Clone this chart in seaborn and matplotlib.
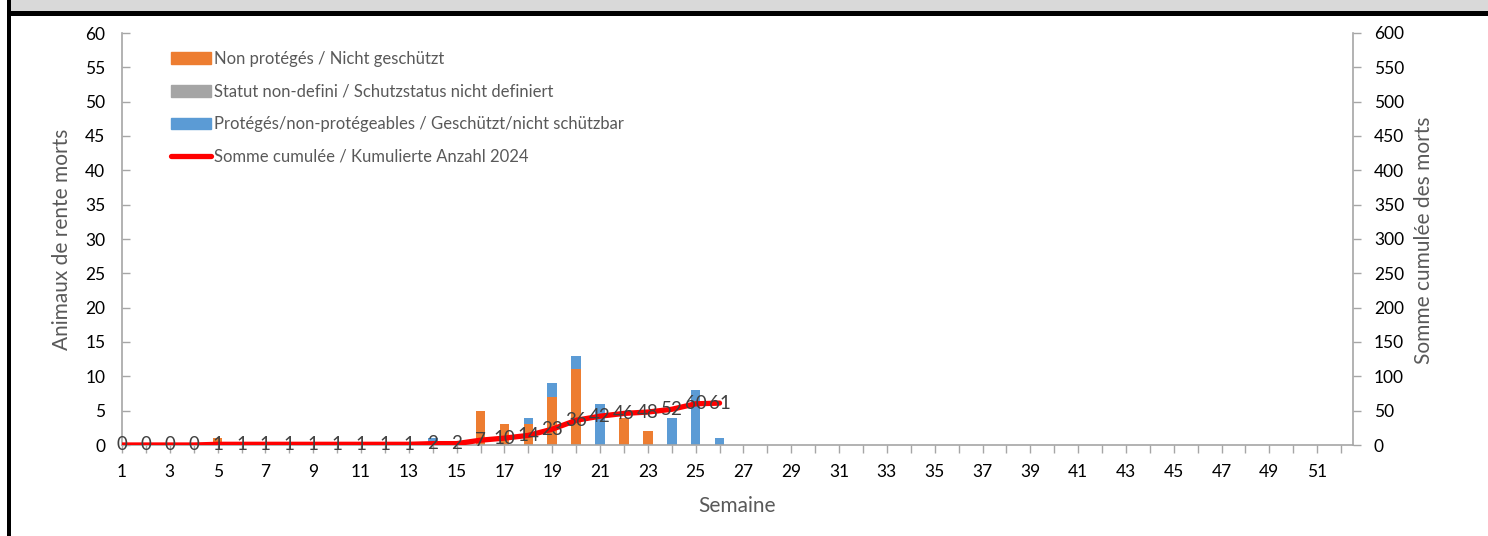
import matplotlib
matplotlib.use("Agg")
import matplotlib.pyplot as plt
from matplotlib.patches import Patch, Rectangle
from matplotlib.lines import Line2D
import seaborn as sns
import pandas as pd

# Donnees par semaine
weeks = list(range(1, 53))
non_proteges = [0, 0, 0, 0, 1, 0, 0, 0, 0, 0, 0, 0, 0, 0, 0, 5, 3, 3, 7, 11,
                0, 4, 2, 0, 0, 0] + [0] * 26
statut_non_defini = [0] * 52
proteges = [0, 0, 0, 0, 0, 0, 0, 0, 0, 0, 0, 0, 0, 1, 0, 0, 0, 1, 2, 2,
            6, 0, 0, 4, 8, 1] + [0] * 26
cumul_weeks = list(range(1, 27))
cumul = [0, 0, 0, 0, 1, 1, 1, 1, 1, 1, 1, 1, 1, 2, 2, 7, 10, 14, 23, 36,
         42, 46, 48, 52, 60, 61]

labels = ["Non protégés / Nicht geschützt",
          "Statut non-defini / Schutzstatus nicht definiert",
          "Protégés/non-protégeables / Geschützt/nicht schützbar",
          "Somme cumulée / Kumulierte Anzahl 2024"]

ORANGE = "#ED7D31"
GRAY = "#A5A5A5"
BLUE = "#5B9BD5"
AXIS = "#A6A6A6"
TXT = "#595959"

sns.set_theme(style="ticks")
plt.rcParams["font.family"] = ["Lato", "DejaVu Sans"]

df = pd.DataFrame({"semaine": weeks,
                   "orange": non_proteges,
                   "gris": statut_non_defini,
                   "bleu": proteges})
# empilement : on dessine les totaux puis on recouvre
df["niv_bleu"] = df["orange"] + df["gris"] + df["bleu"]
df["niv_gris"] = df["orange"] + df["gris"]

W, H = 1488, 536
fig = plt.figure(figsize=(W / 100, H / 100), dpi=100)
ax = fig.add_axes([122 / W, 1 - 445 / H, (1353 - 122) / W, (445 - 33) / H])

for col, color in [("niv_bleu", BLUE), ("niv_gris", GRAY), ("orange", ORANGE)]:
    sns.barplot(data=df, x="semaine", y=col, native_scale=True, width=0.4,
                color=color, saturation=1, linewidth=0, errorbar=None, ax=ax)

ax.set_xlim(1, 52.5)
ax.set_ylim(0, 60)
ax.set_yticks(range(0, 61, 5))
ax.set_xticks(weeks)
ax.set_xticklabels([str(w) if w % 2 == 1 else "" for w in weeks])

ax2 = ax.twinx()
sns.lineplot(x=cumul_weeks, y=cumul, color="#FF0000", linewidth=3.8, ax=ax2)
ax2.set_ylim(0, 600)
ax2.set_yticks(range(0, 601, 50))
for w, c in zip(cumul_weeks, cumul):
    ax2.text(w, c, str(c), ha="center", va="center", fontsize=13.5, color="#404040")

# axes et graduations
for a in (ax, ax2):
    for s in a.spines.values():
        s.set_visible(False)
ax.spines["left"].set_visible(True)
ax.spines["bottom"].set_visible(True)
ax2.spines["right"].set_visible(True)
for s in (ax.spines["left"], ax.spines["bottom"], ax2.spines["right"]):
    s.set_color(AXIS)
    s.set_linewidth(1.2)

ax.tick_params(axis="y", direction="in", length=6, width=1, color=AXIS,
               labelsize=12.5, labelcolor="black", pad=12)
ax.tick_params(axis="x", direction="out", length=6, width=1, color=AXIS,
               labelsize=12.5, labelcolor="black", pad=8)
ax2.tick_params(axis="y", direction="out", length=6, width=1, color=AXIS,
                labelsize=12.5, labelcolor="black", pad=9)

ax.set_xlabel("")
ax.set_ylabel("")
ax2.set_ylabel("")
fig.text(62 / W, 1 - 239 / H, "Animaux de rente morts", rotation=90,
         ha="center", va="center", fontsize=15, color=TXT)
fig.text(1424 / W, 1 - 240 / H, "Somme cumulée des morts", rotation=90,
         ha="center", va="center", fontsize=15, color=TXT)
fig.text(737 / W, 1 - 506 / H, "Semaine", ha="center", va="center",
         fontsize=15, color=TXT)

handles = [Patch(color=ORANGE), Patch(color=GRAY), Patch(color=BLUE),
           Line2D([], [], color="#FF0000", linewidth=3.8)]
leg = ax2.legend(handles, labels, loc="upper left",
                 bbox_to_anchor=(171 / W, 1 - 51 / H),
                 bbox_transform=fig.transFigure, frameon=False,
                 fontsize=12, handlelength=2.4, handletextpad=0.15,
                 labelspacing=1.0, borderpad=0, borderaxespad=0)
for t in leg.get_texts():
    t.set_color(TXT)

# bandeau gris et bordure noire
fig.patches.append(Rectangle((11 / W, 1 - 11 / H), 1 - 11 / W, 11 / H, lw=0,
                             transform=fig.transFigure, color="#D9D9D9", zorder=0))
fig.patches.append(Rectangle((7 / W, 1 - 16 / H), 1 - 7 / W, 5 / H, lw=0,
                             transform=fig.transFigure, color="black", zorder=1))
fig.patches.append(Rectangle((7 / W, 0), 4 / W, 1, lw=0,
                             transform=fig.transFigure, color="black", zorder=1))

fig.savefig("out.png", dpi=100)
